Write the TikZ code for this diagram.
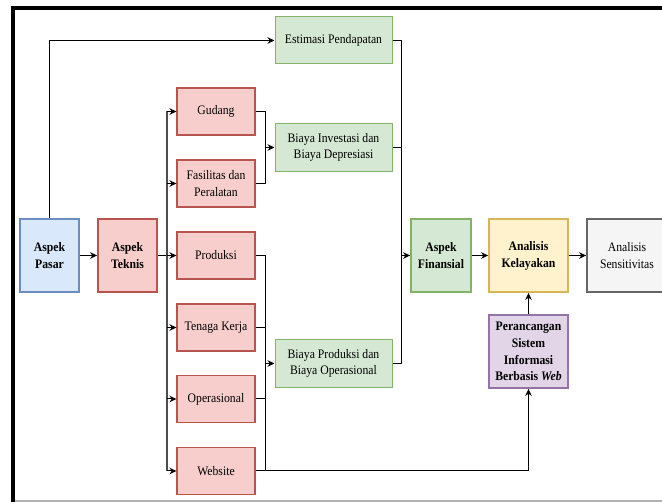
\documentclass[tikz,border=0pt]{standalone}
\usepackage{fontspec}
\setmainfont{Liberation Serif}[FakeStretch=0.9]
\usetikzlibrary{arrows.meta,calc}
\definecolor{bluef}{HTML}{DAE8FC}\definecolor{blued}{HTML}{6C8EBF}
\definecolor{redf}{HTML}{F8CECC}\definecolor{redd}{HTML}{B85450}
\definecolor{greenf}{HTML}{D5E8D4}\definecolor{greend}{HTML}{82B366}
\definecolor{yelf}{HTML}{FFF2CC}\definecolor{yeld}{HTML}{D6B656}
\definecolor{purf}{HTML}{E1D5E7}\definecolor{purd}{HTML}{9673A6}
\definecolor{grayf}{HTML}{F5F5F5}\definecolor{grayd}{HTML}{666666}
\begin{document}
\begin{tikzpicture}[x=1pt,y=-1pt,
  base/.style={rectangle, inner sep=0pt, align=center, font=\fontsize{13}{16.5}\selectfont},
  bigbox/.style={base, line width=1.8pt, minimum width=59pt, minimum height=73pt},
  redbox/.style={base, draw=redd, fill=redf, line width=1.1pt, minimum width=78pt, minimum height=47pt},
  greenbox/.style={base, draw=greend, fill=greenf, line width=1pt, minimum width=117pt, minimum height=48pt},
  con/.style={line width=1pt, black},
  arr/.style={con, -{Stealth[length=7pt,width=6.5pt]}}]
\useasboundingbox (0,0) rectangle (662,502);
% frame
\draw[line width=4pt, black] (13,502) -- (13,8) -- (662,8);
\draw[line width=1.5pt, black!30] (15,501) -- (662,501);
% nodes
\node[bigbox, draw=blued, fill=bluef, font=\bfseries\fontsize{13}{17}\selectfont] (pasar) at (49.5,255.5) {Aspek\\Pasar};
\node[bigbox, draw=redd, fill=redf, font=\bfseries\fontsize{13}{17}\selectfont] (teknis) at (127.5,255.5) {Aspek\\Teknis};
\node[redbox] (gudang) at (216,111.5) {Gudang};
\node[redbox] (fasilitas) at (216,183.5) {Fasilitas dan\\Peralatan};
\node[redbox] (produksi) at (216,255.5) {Produksi};
\node[redbox] (tenaga) at (216,327.5) {Tenaga Kerja};
\node[redbox] (operasional) at (216,399) {Operasional};
\node[redbox] (website) at (216,471) {Website};
\node[greenbox, minimum height=47pt] (estimasi) at (333.5,40.5) {Estimasi Pendapatan};
\node[greenbox] (investasi) at (333.5,147.5) {Biaya Investasi dan\\Biaya Depresiasi};
\node[greenbox] (bproduksi) at (333.5,363.5) {Biaya Produksi dan\\Biaya Operasional};
\node[bigbox, draw=greend, fill=greenf, minimum width=60pt, font=\bfseries\fontsize{13}{17}\selectfont] (finansial) at (441,255.5) {Aspek\\Finansial};
\node[bigbox, draw=yeld, fill=yelf, minimum width=79pt, font=\bfseries\fontsize{13}{17}\selectfont] (kelayakan) at (528.5,255.5) {Analisis\\Kelayakan};
\node[bigbox, draw=grayd, fill=grayf, minimum width=80pt] (sensitivitas) at (627,255.5) {Analisis\\Sensitivitas};
\node[bigbox, draw=purd, fill=purf, minimum width=79pt, font=\bfseries\fontsize{13}{16.7}\selectfont] (perancangan) at (528.5,351.5) {Perancangan\\Sistem\\Informasi\\Berbasis \textit{Web}};
% helper coordinates
\coordinate (bus) at (167,0);
\coordinate (joinA) at (265,0);
\coordinate (joinB) at (401,0);
% connectors
\draw[arr] (pasar.north) |- (estimasi.west);
\draw[arr] (pasar.east) -- (teknis.west);
\draw[con] (teknis.east) -- (teknis.east -| bus);
\draw[con, line width=1.3pt, black!70] (bus |- gudang.west) -- (bus |- website.west);
\foreach \n in {gudang,fasilitas,produksi,tenaga,operasional,website}
  \draw[arr] (bus |- \n.west) -- (\n.west);
\draw[con] (gudang.east) -| (joinA |- fasilitas.east) -- (fasilitas.east);
\draw[arr] (joinA |- investasi.west) -- (investasi.west);
\draw[con] (produksi.east) -| (joinA |- website.east);
\draw[con] (tenaga.east) -- (tenaga.east -| joinA);
\draw[con] (operasional.east) -- (operasional.east -| joinA);
\draw[arr] (joinA |- bproduksi.west) -- (bproduksi.west);
\draw[arr] (website.east) -| (perancangan.south);
\draw[con] (estimasi.east) -| (joinB |- bproduksi.east) -- (bproduksi.east);
\draw[con] (investasi.east) -- (investasi.east -| joinB);
\draw[arr] (joinB |- finansial.west) -- (finansial.west);
\draw[arr] (finansial.east) -- (kelayakan.west);
\draw[arr] (kelayakan.east) -- (sensitivitas.west);
\draw[arr] (perancangan.north) -- (kelayakan.south);
\end{tikzpicture}
\end{document}
